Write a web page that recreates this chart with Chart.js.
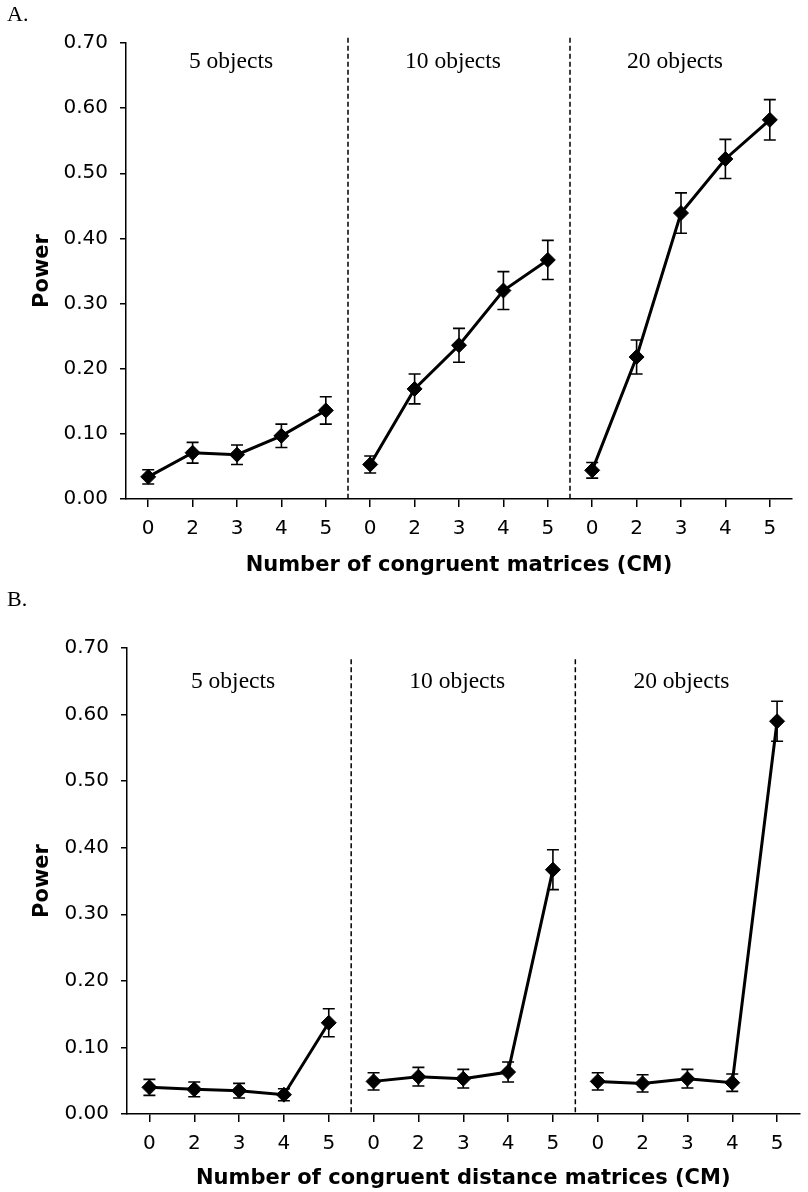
<!DOCTYPE html>
<html>
<head>
<meta charset="utf-8">
<script src="https://cdn.jsdelivr.net/npm/chart.js@4.4.0/dist/chart.umd.min.js"></script>
<style>
  html, body { margin:0; padding:0; background:#fff; }
  body { width:808px; height:1192px; position:relative; overflow:hidden; }
  .panel { position:absolute; left:0; width:808px; }
  #wrapA { top:0; height:590px; }
  #wrapB { top:600px; height:592px; }
  .tag { position:absolute; left:7px; font-family:"Liberation Serif", "Times New Roman", serif; font-size:22px; line-height:22px; color:#000; z-index:2; }
</style>
</head>
<body>
<div class="tag" style="top:3px">A.</div>
<div class="tag" style="top:588px">B.</div>
<div class="panel" id="wrapA"><canvas id="chartA"></canvas></div>
<div class="panel" id="wrapB"><canvas id="chartB"></canvas></div>
<script>
// categories
const cmTicks = ['0', '2', '3', '4', '5'];
const groupNames = ['5 objects', '10 objects', '20 objects'];

// Panel A: congruent matrices (power, +/- error)
const powerA5  = [0.034, 0.071, 0.068, 0.097, 0.136];
const powerA10 = [0.053, 0.169, 0.236, 0.320, 0.367];
const powerA20 = [0.044, 0.218, 0.439, 0.522, 0.582];
const errA5  = [0.011, 0.016, 0.015, 0.018, 0.021];
const errA10 = [0.013, 0.023, 0.026, 0.029, 0.030];
const errA20 = [0.012, 0.026, 0.031, 0.030, 0.031];

// Panel B: congruent distance matrices
const powerB5  = [0.040, 0.037, 0.035, 0.029, 0.137];
const powerB10 = [0.049, 0.056, 0.053, 0.063, 0.367];
const powerB20 = [0.049, 0.046, 0.053, 0.047, 0.590];
const errB5  = [0.012, 0.011, 0.011, 0.009, 0.021];
const errB10 = [0.013, 0.014, 0.014, 0.015, 0.030];
const errB20 = [0.013, 0.013, 0.014, 0.013, 0.030];

// y axis
const yMin = 0, yMax = 0.7, yStep = 0.1;

const allLabels = groupNames.flatMap(() => cmTicks);

// place a group's 5 values into the 15-slot category axis
function spread(g, vals) {
  const out = new Array(allLabels.length).fill(null);
  vals.forEach((v, i) => out[g * cmTicks.length + i] = v);
  return out;
}

function makeSets(groups, errs) {
  return groups.map((vals, g) => ({
    data: spread(g, vals),
    errors: spread(g, errs[g]),
    borderColor: '#000',
    backgroundColor: '#000',
    borderWidth: 3,
    pointStyle: 'rectRot',
    pointRadius: 7.5,
    pointBorderWidth: 1,
    pointBackgroundColor: '#000',
    pointBorderColor: '#000',
    spanGaps: false,
    tension: 0
  }));
}

// error bars with caps
const errorBars = {
  id: 'errorBars',
  afterDatasetsDraw(chart) {
    const ctx = chart.ctx, y = chart.scales.y;
    ctx.save();
    ctx.strokeStyle = '#000';
    ctx.lineWidth = 1.6;
    chart.data.datasets.forEach((ds, di) => {
      chart.getDatasetMeta(di).data.forEach((pt, i) => {
        const v = ds.data[i], e = ds.errors[i];
        if (v == null || e == null) return;
        const top = y.getPixelForValue(v + e), bot = y.getPixelForValue(v - e);
        ctx.beginPath();
        ctx.moveTo(pt.x, top); ctx.lineTo(pt.x, bot);
        ctx.moveTo(pt.x - 6, top); ctx.lineTo(pt.x + 6, top);
        ctx.moveTo(pt.x - 6, bot); ctx.lineTo(pt.x + 6, bot);
        ctx.stroke();
      });
    });
    ctx.restore();
  }
};

// dashed group separators and group names
const groupDecor = {
  id: 'groupDecor',
  afterDraw(chart, args, opts) {
    const ctx = chart.ctx, x = chart.scales.x, y = chart.scales.y;
    const n = cmTicks.length;
    ctx.save();
    ctx.strokeStyle = '#000';
    ctx.lineWidth = 1.5;
    ctx.setLineDash([5, 3]);
    for (let g = 1; g < groupNames.length; g++) {
      const px = (x.getPixelForValue(g * n - 1) + x.getPixelForValue(g * n)) / 2;
      ctx.beginPath();
      ctx.moveTo(px, y.getPixelForValue(opts.dashTop));
      ctx.lineTo(px, chart.chartArea.bottom);
      ctx.stroke();
    }
    ctx.setLineDash([]);
    ctx.fillStyle = '#000';
    ctx.font = '23.5px "Liberation Serif", "Times New Roman", serif';
    ctx.textAlign = 'center';
    ctx.textBaseline = 'middle';
    groupNames.forEach((name, g) => {
      const px = x.getPixelForValue(g * n + 2) - 6;
      ctx.fillText(name, px, y.getPixelForValue(opts.labelY));
    });
    ctx.restore();
  }
};

function makeChart(id, datasets, xTitle, lay) {
  return new Chart(document.getElementById(id), {
    type: 'line',
    data: { labels: allLabels, datasets },
    plugins: [errorBars, groupDecor],
    options: {
      responsive: true,
      maintainAspectRatio: false,
      animation: false,
      layout: { padding: { top: lay.top, right: lay.right, left: 0, bottom: 0 } },
      plugins: {
        legend: { display: false },
        tooltip: { enabled: false },
        groupDecor: { dashTop: lay.dashTop, labelY: lay.labelY }
      },
      scales: {
        x: {
          type: 'category',
          offset: true,
          grid: { display: true, drawOnChartArea: false, drawTicks: true, tickLength: 8, color: '#000', lineWidth: 1.5, offset: false },
          border: { display: true, color: '#000', width: 1.5 },
          ticks: { color: '#000', padding: 10, autoSkip: false, maxRotation: 0, font: { family: '"DejaVu Sans", Verdana, sans-serif', size: 20 } },
          title: { display: true, text: xTitle, color: '#000', padding: { top: 0, bottom: lay.xTitlePad }, font: { family: '"DejaVu Sans", Verdana, sans-serif', size: 21, weight: 'bold' } },
          afterFit: s => { s.height = lay.xHeight; }
        },
        y: {
          min: yMin, max: yMax,
          grid: { display: true, drawOnChartArea: false, drawTicks: true, tickLength: 6, color: '#000', lineWidth: 1.5 },
          border: { display: true, color: '#000', width: 1.5 },
          ticks: { stepSize: yStep, color: '#000', padding: 12, callback: v => v.toFixed(2), font: { family: '"DejaVu Sans", Verdana, sans-serif', size: 20 } },
          title: { display: true, text: 'Power', color: '#000', padding: { top: 30, bottom: 0 }, font: { family: '"DejaVu Sans", Verdana, sans-serif', size: 21, weight: 'bold' } },
          afterFit: s => { s.width = lay.yWidth; }
        }
      }
    }
  });
}

makeChart('chartA', makeSets([powerA5, powerA10, powerA20], [errA5, errA10, errA20]),
  'Number of congruent matrices (CM)',
  { top: 43, right: 16, xHeight: 91, xTitlePad: 12, yWidth: 126, dashTop: 0.708, labelY: 0.671 });

makeChart('chartB', makeSets([powerB5, powerB10, powerB20], [errB5, errB10, errB20]),
  'Number of congruent distance matrices (CM)',
  { top: 48, right: 3, xHeight: 78, xTitlePad: 1, yWidth: 127, dashTop: 0.683, labelY: 0.649 });
</script>
</body>
</html>
